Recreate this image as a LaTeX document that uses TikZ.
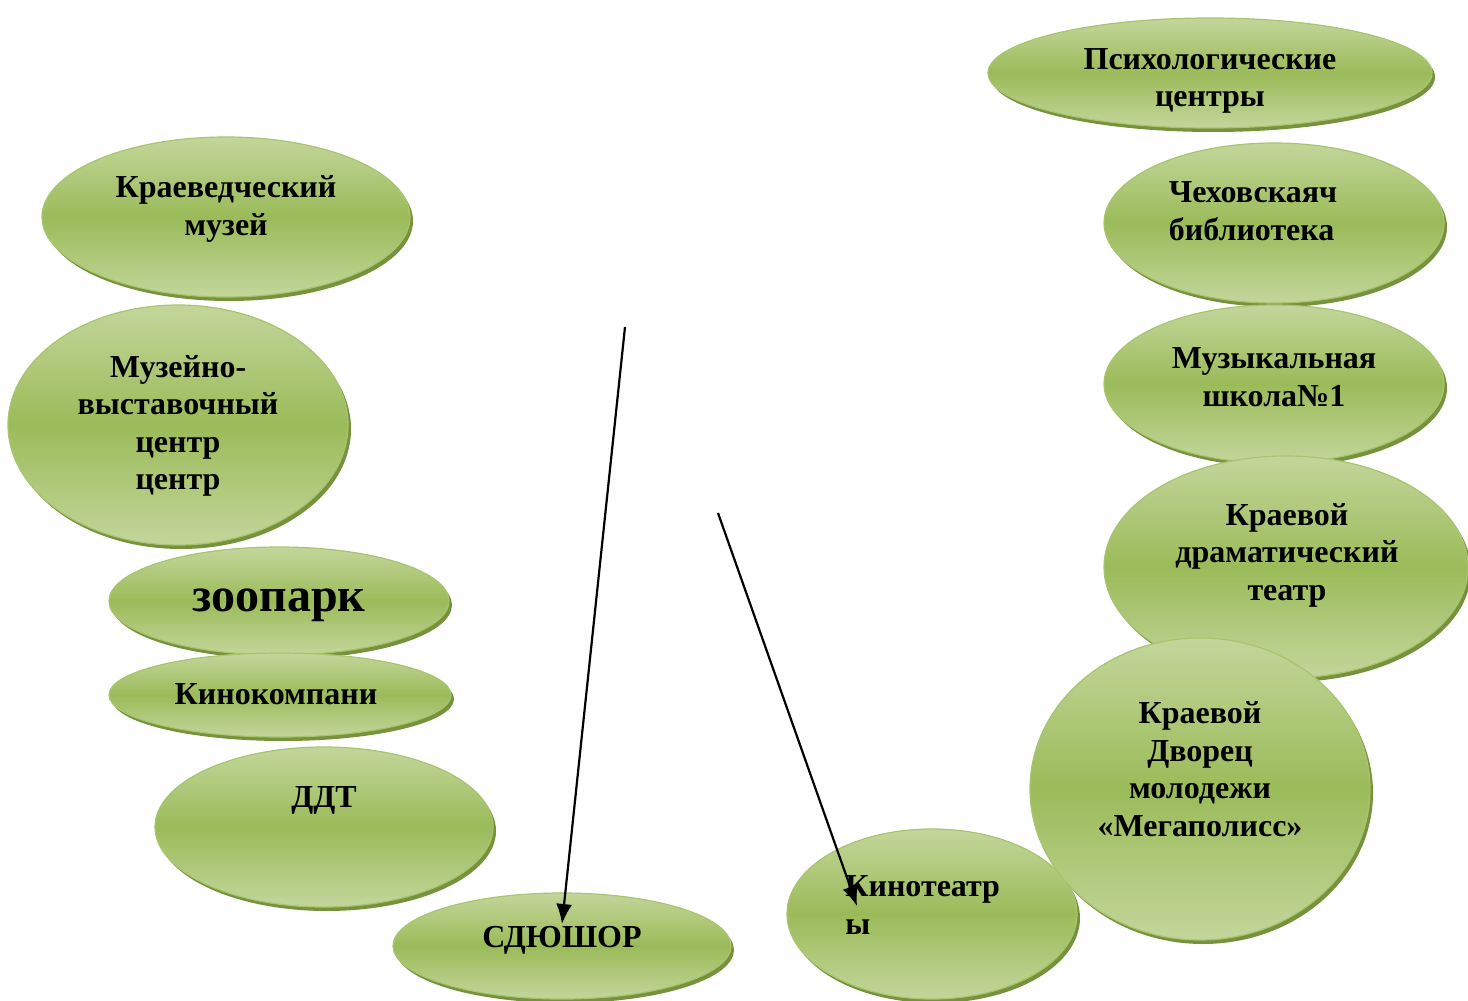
\documentclass[tikz,border=0pt]{standalone}
\usepackage{fontspec}
\setmainfont{Liberation Serif}
\usetikzlibrary{shapes.geometric, shadows, arrows.meta, calc}

\definecolor{svetlo}{HTML}{C3D69B}
\definecolor{zelen}{HTML}{9BBB59}
\definecolor{ten}{HTML}{76923C}
\definecolor{kontur}{HTML}{A9C46F}

\tikzset{
  oval/.style={ellipse, draw=kontur, line width=0.6pt, inner sep=0pt,
    top color=svetlo, bottom color=svetlo, middle color=zelen,
    drop shadow={shadow xshift=1.5pt, shadow yshift=-2pt, fill=ten, opacity=1}},
  txt/.style={font=\bfseries\fontsize{16}{18.75}\selectfont, align=center, inner sep=0pt},
  strelka/.style={-{Latex[length=10pt,width=8pt]}, line width=1.1pt}
}

\begin{document}
\begin{tikzpicture}[x=0.5pt, y=-0.5pt]
        \useasboundingbox (0,0) rectangle (1468,1001);

        % Левая колонка
        \node[oval, minimum width=184pt, minimum height=80pt] (kraev) at (226,217) {};
        \node[txt] (t-kraev) at (226,209) {Краеведческий\\музей};

        \node[oval, minimum width=170pt, minimum height=120pt] (muzvyst) at (178,425) {};
        \node[txt] (t-muzvyst) at (178,426) {Музейно-\\выставочный\\центр\\центр};

        \node[oval, minimum width=170pt, minimum height=54pt] (zoo) at (279,601) {};
        \node[txt, font=\bfseries\fontsize{24}{28}\selectfont] (t-zoo) at (279,605) {зоопарк};

        \node[oval, minimum width=171pt, minimum height=42pt] (kinokomp) at (280,695) {};
        \node[txt] (t-kinokomp) at (276,694) {Кинокомпани};

        \node[oval, minimum width=169pt, minimum height=80pt] (ddt) at (324,827) {};
        \node[txt] (t-ddt) at (324,800) {ДДТ};

        % Нижний ряд
        \node[oval, minimum width=169pt, minimum height=53pt] (sdyu) at (562,946) {};
        \node[txt] (t-sdyu) at (562,940) {СДЮШОР};

        \node[oval, minimum width=145pt, minimum height=85pt] (kino) at (932,914) {};
        \node[txt, align=left, anchor=west] (t-kino) at (845,905) {Кинотеатр\\ы};

        % Правая колонка
        \node[oval, minimum width=222pt, minimum height=55pt] (psy) at (1210,73) {};
        \node[txt] (t-psy) at (1210,81) {Психологические\\центры};

        \node[oval, minimum width=170pt, minimum height=80pt] (chekh) at (1274,223) {};
        \node[txt, align=left] (t-chekh) at (1253,211) {Чеховскаяч\\библиотека};

        \node[oval, minimum width=170pt, minimum height=79pt] (muzshk) at (1274,384) {};
        \node[txt] (t-muzshk) at (1274,377) {Музыкальная\\школа№1};

        \node[oval, minimum width=182pt, minimum height=111pt] (drama) at (1286,567) {};
        \node[txt] (t-drama) at (1287,555) {Краевой\\драматический\\театр};

        \node[oval, minimum width=170pt, minimum height=151pt] (dvorec) at (1200,789) {};
        \node[txt] (t-dvorec) at (1200,769) {Краевой\\Дворец\\молодежи\\«Мегаполисс»};

        % Стрелки
        \coordinate (s1) at (625,327);
        \coordinate (s2) at (718,513);
        \draw[strelka] (s1) -- ($(sdyu.center)+(0,-22)$);
        \draw[strelka] (s2) -- ($(kino.center)+(-75,-8)$);
\end{tikzpicture}
\end{document}
